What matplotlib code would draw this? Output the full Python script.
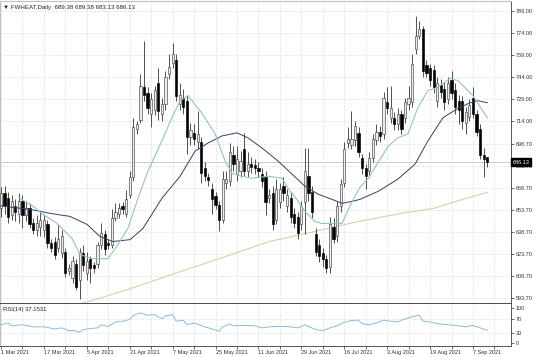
import numpy as np
import matplotlib
matplotlib.use("Agg")
import matplotlib.pyplot as plt
from matplotlib import transforms

# FWHEAT daily candles, 1 Mar 2021 - 13 Sep 2021
opens = [655, 665, 662, 650, 656, 651, 660, 650, 655, 645,
         640, 642, 640, 644, 631, 632, 628, 624, 625, 612,
         607, 617, 606, 624, 611, 620, 616, 617, 630, 637,
         631, 630, 648, 651, 656, 651, 664, 676, 709, 715,
         737, 733, 719, 722, 740, 719, 726, 746, 754, 756,
         726, 730, 728, 703, 706, 700, 700, 682, 676, 668,
         663, 657, 647, 672, 673, 691, 678, 680, 695, 680,
         685, 684, 682, 678, 676, 662, 665, 647, 659, 670,
         656, 662, 651, 649, 644, 659, 677, 666, 637, 630,
         624, 620, 615, 642, 636, 656, 672, 699, 698, 701,
         706, 689, 682, 680, 689, 701, 707, 705, 727, 716,
         716, 712, 719, 716, 726, 727, 763, 772, 777, 752,
         750, 749, 728, 739, 736, 729, 742, 735, 728, 728,
         713, 717, 730, 719, 709, 691, 689.38]
highs = [669, 670, 666, 664, 661, 665, 664, 660, 658, 648,
         650, 652, 651, 647, 634, 635, 644, 640, 628, 617,
         622, 620, 628, 630, 625, 622, 618, 632, 645, 640,
         634, 654, 658, 658, 659, 667, 680, 716, 714, 746,
         769, 737, 733, 738, 750, 730, 748, 760, 767, 760,
         740, 736, 732, 713, 712, 721, 703, 686, 679, 672,
         666, 660, 680, 680, 699, 697, 697, 694, 706, 693,
         690, 688, 686, 682, 680, 668, 670, 675, 672, 676,
         668, 666, 655, 652, 660, 696, 696, 670, 641, 634,
         628, 623, 649, 648, 660, 675, 700, 710, 721, 714,
         710, 692, 685, 693, 705, 712, 711, 734, 737, 738,
         720, 723, 722, 730, 738, 760, 786, 782, 779, 756,
         753, 752, 744, 743, 741, 744, 748, 740, 732, 731,
         724, 729, 737, 722, 712, 696, 689.38]
lows = [649, 651, 645, 647, 646, 645, 641, 646, 641, 637,
        636, 636, 635, 628, 625, 620, 625, 621, 608, 609,
        604, 599, 593, 612, 606, 604, 611, 614, 627, 623,
        627, 628, 646, 648, 651, 649, 662, 673, 705, 713,
        728, 719, 710, 718, 715, 714, 722, 743, 750, 728,
        722, 719, 692, 698, 698, 696, 672, 673, 670, 651,
        654, 639, 645, 668, 670, 680, 673, 676, 677, 676,
        679, 678, 676, 669, 650, 658, 640, 644, 655, 660,
        652, 645, 641, 634, 640, 637, 660, 648, 622, 618,
        615, 611, 611, 631, 632, 652, 669, 696, 695, 697,
        690, 678, 668, 676, 686, 698, 700, 702, 719, 713,
        708, 708, 705, 713, 722, 724, 760, 770, 744, 744,
        738, 733, 724, 730, 722, 726, 729, 719, 712, 709,
        705, 714, 716, 704, 688, 676, 683.13]
closes = [665, 656, 649, 660, 652, 660, 650, 655, 644, 640,
          645, 647, 647, 631, 628, 623, 634, 636, 611, 614,
          619, 601, 625, 616, 619, 614, 614, 630, 638, 627,
          630, 648, 652, 655, 654, 661, 676, 710, 712, 738,
          732, 723, 729, 735, 721, 726, 744, 751, 760, 731,
          732, 724, 703, 708, 702, 705, 679, 677, 674, 661,
          657, 647, 675, 675, 693, 685, 688, 687, 680, 685,
          683, 682, 680, 673, 659, 664, 644, 668, 668, 665,
          664, 649, 645, 638, 656, 680, 665, 652, 625, 622,
          620, 614, 644, 634, 656, 671, 695, 702, 702, 711,
          693, 682, 677, 689, 702, 707, 704, 730, 723, 723,
          712, 719, 709, 727, 730, 753, 772, 777, 748, 747,
          742, 737, 740, 734, 727, 740, 733, 724, 722, 714,
          720, 725, 719, 707, 691, 688, 686.13]

date_labels = ["1 Mar 2021", "17 Mar 2021", "5 Apr 2021", "21 Apr 2021",
               "7 May 2021", "25 May 2021", "11 Jun 2021", "29 Jun 2021",
               "16 Jul 2021", "3 Aug 2021", "19 Aug 2021", "7 Sep 2021"]
price_ticks = [789.00, 774.00, 759.00, 744.00, 729.00, 714.00, 698.70,
               683.70, 668.70, 653.70, 638.70, 623.70, 608.70, 593.70]
rsi_ticks = [100, 70, 30, 0]

# moving averages, vertices (bar index, price)
ma_fast_bar = [5.3, 9.0, 11.7, 15.7, 19.9, 22.1, 25.5, 29.9, 32.7, 35.5, 38.3,
               41.1, 45.0, 47.8, 50.1, 52.3, 55.7, 59.9, 62.7, 64.6, 67.4, 70.2,
               74.7, 78.6, 80.3, 83.1, 85.0, 87.8, 89.8, 92.6, 95.4, 98.2, 100.4,
               102.7, 105.0, 108.3, 111.0, 113.8, 116.6, 119.4, 122.0, 125.6,
               127.8, 132.0, 136.0]
ma_fast_val = [661.5, 656.0, 650.6, 644.4, 634.1, 623.2, 620.4, 620.4, 630.0,
               641.0, 661.5, 680.0, 700.6, 716.4, 728.0, 731.4, 721.2, 705.4,
               686.9, 678.7, 676.6, 675.2, 676.6, 675.2, 668.4, 659.5, 652.6,
               645.8, 644.4, 644.4, 644.4, 659.5, 669.0, 675.0, 684.0, 697.0,
               702.7, 705.4, 723.2, 734.9, 736.9, 743.1, 741.7, 731.4, 716.4]
ma_slow_bar = [0, 1.1, 8.1, 13.7, 19.3, 24.1, 27.7, 31.3, 36.1, 39.7, 45.0,
               50.1, 54.3, 57.9, 61.8, 66.0, 69.1, 73.0, 77.5, 81.4, 85.0, 88.7,
               92.6, 95.4, 98.2, 100.4, 105.5, 111.0, 115.8, 119.4, 123.6, 127.6,
               131.2, 133.4, 136.0]
ma_slow_val = [656.5, 656.0, 654.0, 651.3, 649.2, 643.7, 635.5, 632.1, 633.4,
               641.0, 661.5, 676.6, 693.7, 699.2, 704.0, 706.1, 702.7, 695.8,
               686.9, 678.0, 669.8, 664.3, 660.8, 658.1, 659.5, 660.8, 666.3,
               674.6, 684.8, 700.6, 716.4, 722.5, 726.6, 728.0, 726.6]
ma_long_bar = [21, 27, 36, 50, 56, 75, 84, 100, 112, 121, 128, 136]
ma_long_val = [589.0, 593.0, 599.9, 611.5, 616.3, 632.1, 636.9, 645.8, 651.3,
               654.7, 660.0, 665.6]

rsi_bar = [0, 2, 3, 6, 9, 12, 15, 17, 19, 20, 22, 23, 24, 27, 28, 30, 32, 34,
           36, 37, 39, 41, 43, 45, 46, 48, 49, 51, 52, 54, 57, 59, 61, 62, 64,
           65, 67, 71, 73, 75, 78, 81, 83, 85, 86, 88, 90, 92, 94, 96, 98, 100,
           101, 103, 105, 107, 109, 111, 112, 115, 117, 118, 120, 122, 125, 127,
           130, 132, 134, 136]
rsi_val = [53, 58, 50, 53, 47, 47, 41, 44, 36, 37, 32, 39, 41, 44, 53, 48, 61,
           63, 68, 80, 87, 80, 82, 70, 78, 82, 63, 66, 53, 58, 47, 41, 34, 47,
           55, 50, 51, 50, 44, 47, 48, 47, 44, 53, 48, 39, 36, 44, 50, 60, 65,
           66, 56, 53, 58, 66, 63, 61, 66, 76, 80, 63, 61, 56, 53, 51, 47, 51,
           44, 37.15]

W, H = 536, 357
fig = plt.figure(figsize=(W / 100, H / 100), dpi=100)
plt.rcParams['font.family'] = ['Liberation Sans', 'DejaVu Sans']


def box(x0, y0, x1, y1):
    return [x0 / W, 1 - y1 / H, (x1 - x0) / W, (y1 - y0) / H]


ax = fig.add_axes(box(0, 1, 510.5, 303.5))
ax2 = fig.add_axes(box(0, 304.2, 510.5, 345.5))

o = np.array(opens)
h = np.array(highs)
lo = np.array(lows)
c = np.array(closes)
x = np.arange(len(o))
bull = c >= o

# candles
ax.vlines(x, lo, h, color='#222222', lw=0.55, zorder=3)
body_lo = np.minimum(o, c)
body_h = np.maximum(np.abs(c - o), 0.9)
ax.bar(x[bull], body_h[bull], bottom=body_lo[bull], width=0.62,
       facecolor='#ececec', edgecolor='#444444', lw=0.45, zorder=4)
ax.bar(x[~bull], body_h[~bull], bottom=body_lo[~bull], width=0.62,
       facecolor='black', edgecolor='black', lw=0.45, zorder=4)

# moving averages
ax.plot(ma_long_bar, ma_long_val, color='#dccdaa', lw=0.8, zorder=2)
ax.plot(ma_slow_bar, ma_slow_val, color='#3b3b6b', lw=0.7, zorder=5)
ax.plot(ma_fast_bar, ma_fast_val, color='#94c4bf', lw=0.8, zorder=5)

# bid line
ax.axhline(closes[-1], color='#c4c4c4', lw=0.6, zorder=1)

xmin, xmax = -0.28, 142.5
ax.set_xlim(xmin, xmax)
ax.set_ylim(589.9, 795.9)
ax.set_xticks(np.arange(0, 142, 6))
ax.set_yticks(price_ticks)
ax.set_yticklabels([f"{p:.2f}" for p in price_ticks])
ax.yaxis.tick_right()
ax.tick_params(axis='x', length=0, labelbottom=False)
ax.tick_params(axis='y', length=2.5, width=0.5, pad=1.5, labelsize=4,
               colors='#333333')
ax.grid(True, color='#d6d6d6', lw=0.5, linestyle=(0, (2, 2)), zorder=0)

for s in ['left', 'top']:
    ax.spines[s].set_color('#c0c0c0')
    ax.spines[s].set_linewidth(0.8)
ax.spines['right'].set_color('#555555')
ax.spines['right'].set_linewidth(0.7)
ax.spines['bottom'].set_color('#3a3a3a')
ax.spines['bottom'].set_linewidth(1.3)

# current price box
tr = transforms.blended_transform_factory(ax.transAxes, ax.transData)
ax.text(1.004, closes[-1], f"{closes[-1]:.2f}", transform=tr, ha='left',
        va='center', fontsize=4, color='white', zorder=10, clip_on=False,
        bbox=dict(facecolor='black', edgecolor='black', pad=0.9))

fig.text(3 / W, 1 - 7 / H,
         "\u25bc FWHEAT,Daily  689.38 689.38 683.13 686.13",
         fontsize=4.4, color='#222222', va='center', ha='left')

# RSI pane
ax2.plot(rsi_bar, rsi_val, color='#8cbad8', lw=0.7, zorder=3)
ax2.set_xlim(xmin, xmax)
ax2.set_ylim(-6.4, 111.7)
ax2.set_yticks(rsi_ticks)
ax2.yaxis.tick_right()
ax2.tick_params(axis='y', length=2.5, width=0.5, pad=1.5, labelsize=4,
                colors='#333333')
ticks = np.arange(0, 142, 6)
ax2.set_xticks(ticks)
ax2.set_xticklabels([date_labels[i // 2] if i % 2 == 0 else ''
                     for i in range(len(ticks))])
for lbl in ax2.get_xticklabels():
    lbl.set_ha('left')
ax2.tick_params(axis='x', length=2, width=0.5, pad=1.5, labelsize=4,
                colors='#333333')
ax2.grid(True, axis='x', color='#d6d6d6', lw=0.5, linestyle=(0, (2, 2)))
for lvl in [70, 30]:
    ax2.axhline(lvl, color='#d6d6d6', lw=0.5, linestyle=(0, (2, 2)), zorder=0)
ax2.text(3 / 510.5, 0.88, "RSI(14) 37.1531", transform=ax2.transAxes,
         fontsize=4.2, color='#222222', va='center', ha='left')
ax2.spines['top'].set_visible(False)
ax2.spines['left'].set_color('#c0c0c0')
ax2.spines['right'].set_color('#555555')
ax2.spines['right'].set_linewidth(0.7)
ax2.spines['bottom'].set_color('#555555')
ax2.spines['bottom'].set_linewidth(0.7)

fig.savefig("out.png", dpi=100, facecolor='white')
